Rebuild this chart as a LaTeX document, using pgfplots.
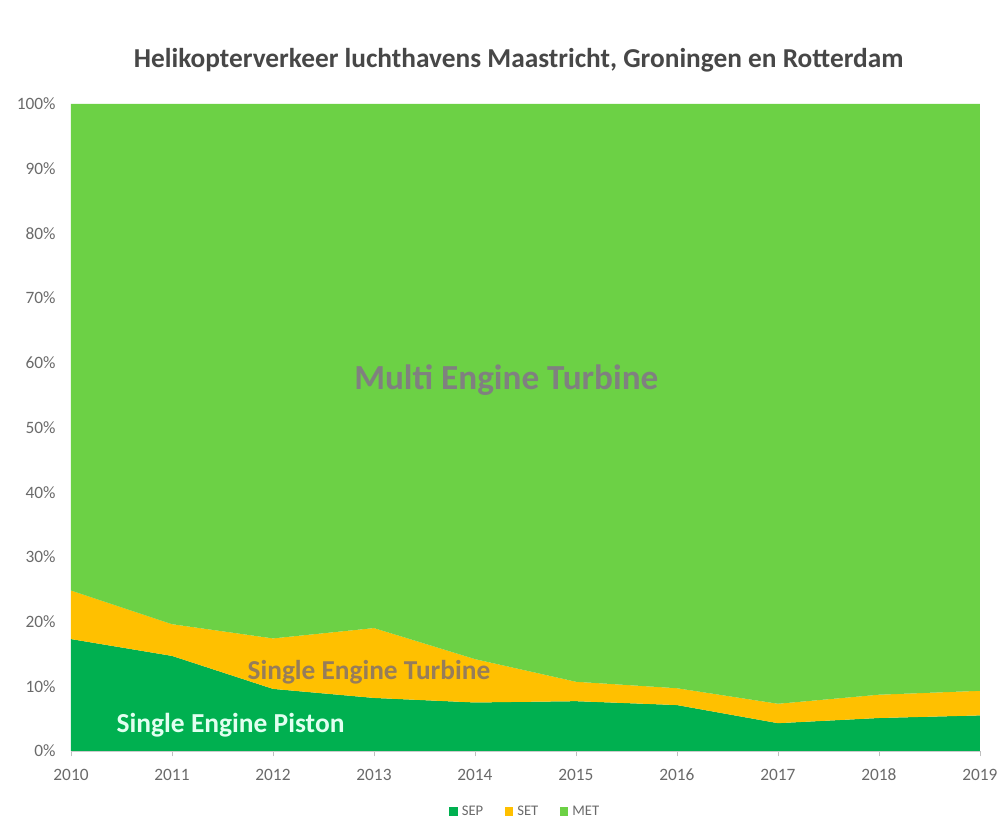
\documentclass[border=0pt]{standalone}
\usepackage{pgfplots}
\pgfplotsset{compat=1.18}
\usepackage{fontspec}
\setmainfont{Carlito}
\definecolor{sep}{HTML}{00B050}
\definecolor{set}{HTML}{FFC000}
\definecolor{met}{HTML}{6CD145}
\definecolor{tickgrey}{HTML}{6A6A6A}
\definecolor{setlab}{RGB}{150,125,90}
\definecolor{seplab}{RGB}{225,255,240}
\begin{document}
\begin{tikzpicture}
\path[use as bounding box] (0,0) rectangle (750pt,617.25pt);
\begin{axis}[
  at={(53.25pt,54pt)}, anchor=south west,
  scale only axis, width=681.75pt, height=485.25pt,
  xmin=2010, xmax=2019, ymin=0, ymax=100,
  axis x line*=bottom, axis y line*=left,
  x axis line style={draw=black!20},
  y axis line style={draw=none},
  xtick={2010,...,2019},
  ytick={0,10,...,100},
  yticklabel={\pgfmathprintnumber{\tick}\%},
  xticklabel style={/pgf/number format/1000 sep={}, font=\fontsize{13}{13}\selectfont, text=tickgrey, yshift=-6pt},
  yticklabel style={font=\fontsize{13}{13}\selectfont, text=tickgrey, xshift=-8pt},
  /pgf/number format/assume math mode=true,
  x tick style={draw=black!25},
  y tick style={draw=none},
  major tick length=4pt,
  xtick pos=bottom, xtick align=outside,
  legend style={at={(axis description cs:0.50,-0.094)}, anchor=center, draw=none, fill=none,
    legend columns=3, font=\fontsize{11}{11}\selectfont\color{tickgrey},
    /tikz/every odd column/.append style={column sep=1pt},
    /tikz/every even column/.append style={column sep=14pt}},
  legend image code/.code={\fill[#1] (0pt,-3.5pt) rectangle (6.5pt,3.5pt);},
  clip=false,
]
\addplot[draw=none, fill=sep, stack plots=y] coordinates {(2010,17.3) (2011,14.7) (2012,9.6) (2013,8.2) (2014,7.5) (2015,7.7) (2016,7.1) (2017,4.3) (2018,5.1) (2019,5.5)} \closedcycle;
\addlegendentry{SEP}
\addplot[draw=none, fill=set, stack plots=y] coordinates {(2010,7.5) (2011,4.9) (2012,7.8) (2013,10.8) (2014,6.7) (2015,3.0) (2016,2.6) (2017,3.0) (2018,3.6) (2019,3.8)} \closedcycle;
\addlegendentry{SET}
\addplot[draw=none, fill=met, stack plots=y] coordinates {(2010,75.2) (2011,80.4) (2012,82.6) (2013,81.0) (2014,85.8) (2015,89.3) (2016,90.3) (2017,92.7) (2018,91.3) (2019,90.7)} \closedcycle;
\addlegendentry{MET}
\node[font=\bfseries\fontsize{26.4}{26.4}\selectfont, text=black!50] at (axis cs:2014.31,57.3) {Multi Engine Turbine};
\node[font=\bfseries\fontsize{20.5}{20.5}\selectfont, text=setlab] at (axis cs:2012.95,12.1) {Single Engine Turbine};
\node[font=\bfseries\fontsize{20.6}{20.6}\selectfont, text=seplab] at (axis cs:2011.58,4.0) {Single Engine Piston};
\end{axis}
\node[font=\bfseries\fontsize{20.5}{20.5}\selectfont, text=black!72] at (389pt,572pt) {Helikopterverkeer luchthavens Maastricht, Groningen en Rotterdam};
\end{tikzpicture}
\end{document}
